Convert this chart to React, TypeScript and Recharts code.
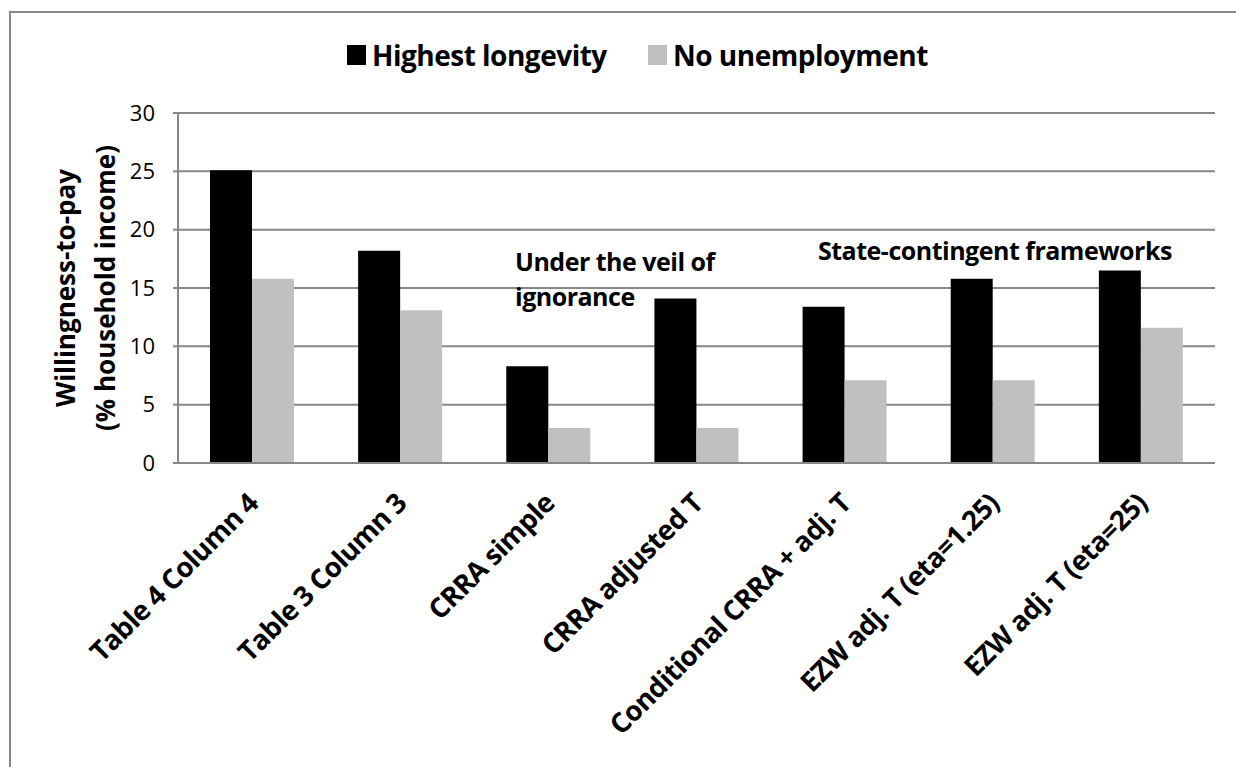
import React from 'react';
import { BarChart, Bar, XAxis, YAxis, CartesianGrid } from 'recharts';

// willingness-to-pay per model specification, % of household income
const categories = [
  'Table 4 Column 4',
  'Table 3 Column 3',
  'CRRA simple',
  'CRRA adjusted T',
  'Conditional CRRA + adj. T',
  'EZW adj. T (eta=1.25)',
  'EZW adj. T (eta=25)',
];
const highestLongevity = [25.1, 18.2, 8.3, 14.1, 13.4, 15.8, 16.5];
const noUnemployment = [15.8, 13.1, 3.0, 3.0, 7.1, 7.1, 11.6];
const yTicks = [0, 5, 10, 15, 20, 25, 30];

const data = categories.map((name, i) => ({
  name,
  longevity: highestLongevity[i],
  unemployment: noUnemployment[i],
}));

const FONT = '"Open Sans", Lato, sans-serif';
const GRID = '#878787';

// category labels run up at 45 degrees, ending just right of the group centre
const AngledTick = ({ x, y, payload }: any) => {
  const ax = x + 8;
  const ay = y + 42;
  return (
    <text
      x={ax}
      y={ay}
      textAnchor="end"
      transform={`rotate(-45, ${ax}, ${ay})`}
      fontFamily={FONT}
      fontWeight={700}
      fontSize={27.5}
      letterSpacing={-0.6}
      fill="#000"
    >
      {payload.value}
    </text>
  );
};

const legendItems = [
  { label: 'Highest longevity', color: '#000000', left: 347 },
  { label: 'No unemployment', color: '#c0c0c0', left: 648 },
];

export default function App() {
  return (
    <div
      style={{
        position: 'fixed',
        left: 0,
        top: 0,
        width: 1236,
        height: 767,
        overflow: 'hidden',
        background: '#fff',
        fontFamily: FONT,
      }}
    >
      <style>{'html, body { margin: 0; overflow: hidden; }'}</style>

      <BarChart
        width={1236}
        height={767}
        data={data}
        margin={{ top: 113, right: 21, left: 118, bottom: 54 }}
        barCategoryGap="21.6%"
        barGap={0}
        style={{ position: 'absolute', left: 0, top: 0 }}
      >
        <CartesianGrid vertical={false} stroke={GRID} strokeWidth={2} />
        <XAxis
          dataKey="name"
          height={250}
          interval={0}
          tickLine={false}
          tickSize={0}
          tickMargin={0}
          axisLine={{ stroke: GRID, strokeWidth: 2 }}
          tick={<AngledTick />}
        />
        <YAxis
          width={60}
          domain={[0, 30]}
          ticks={yTicks}
          interval={0}
          tickSize={5}
          tickMargin={18}
          axisLine={{ stroke: GRID, strokeWidth: 2 }}
          tickLine={{ stroke: GRID, strokeWidth: 2 }}
          tick={{ fill: '#000', fontSize: 22, fontFamily: FONT }}
        />
        <Bar dataKey="longevity" name="Highest longevity" fill="#000000" isAnimationActive={false} />
        <Bar dataKey="unemployment" name="No unemployment" fill="#c0c0c0" isAnimationActive={false} />
      </BarChart>

      {/* chart frame: left and top edges */}
      <div style={{ position: 'absolute', left: 9, top: 11, width: 2, height: 760, background: GRID }} />
      <div style={{ position: 'absolute', left: 9, top: 11, width: 1227, height: 2, background: GRID }} />

      {/* legend */}
      {legendItems.map((item) => (
        <div
          key={item.label}
          style={{
            position: 'absolute',
            left: item.left,
            top: 37,
            height: 36,
            display: 'flex',
            alignItems: 'center',
            fontSize: 28,
            fontWeight: 700,
            letterSpacing: -0.5,
            color: '#000',
            whiteSpace: 'nowrap',
          }}
        >
          <span style={{ display: 'inline-block', width: 19, height: 20, background: item.color, marginRight: 6 }} />
          {item.label}
        </div>
      ))}

      {/* y-axis title */}
      <div
        style={{
          position: 'absolute',
          left: 85,
          top: 288,
          transform: 'translate(-50%, -50%) rotate(-90deg)',
          textAlign: 'center',
          fontSize: 26,
          fontWeight: 700,
          lineHeight: '40px',
          whiteSpace: 'nowrap',
          color: '#000',
        }}
      >
        Willingness-to-pay
        <br />
        (% household income)
      </div>

      {/* group annotations */}
      <div
        style={{
          position: 'absolute',
          left: 515,
          top: 244,
          fontSize: 25,
          fontWeight: 700,
          letterSpacing: -0.5,
          lineHeight: '35px',
          whiteSpace: 'nowrap',
          color: '#000',
        }}
      >
        Under the veil of
        <br />
        ignorance
      </div>
      <div
        style={{
          position: 'absolute',
          left: 818,
          top: 233,
          fontSize: 25,
          fontWeight: 700,
          letterSpacing: -0.5,
          lineHeight: '35px',
          whiteSpace: 'nowrap',
          color: '#000',
        }}
      >
        State-contingent frameworks
      </div>
    </div>
  );
}
